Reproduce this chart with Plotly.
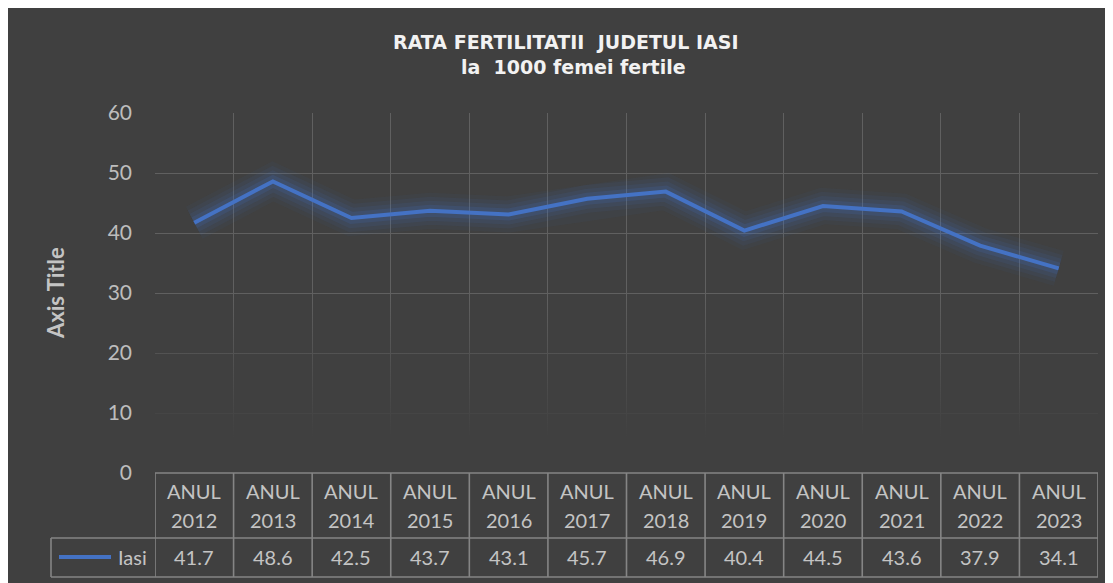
import plotly.graph_objects as go

# ---------------- data ----------------
categories = ["ANUL 2012", "ANUL 2013", "ANUL 2014", "ANUL 2015", "ANUL 2016", "ANUL 2017",
              "ANUL 2018", "ANUL 2019", "ANUL 2020", "ANUL 2021", "ANUL 2022", "ANUL 2023"]
series_name = "Iasi"
values = [41.7, 48.6, 42.5, 43.7, 43.1, 45.7, 46.9, 40.4, 44.5, 43.6, 37.9, 34.1]
y_ticks = [0, 10, 20, 30, 40, 50, 60]
title_line1 = "RATA FERTILITATII  JUDETUL IASI"
title_line2 = "la  1000 femei fertile"
y_title = "Axis Title"

# ---------------- layout geometry (page pixels; the page body has an 8px margin) ----------------
OFF = 8
W, H = 1113 - OFF, 583 - OFF
L, R, T, B = 155, 1098, 113, 473
PW, PH = R - L, B - T


def px_x(px):
    return (px - L) / PW


def px_y(py):
    return (B - py) / PH


BG = "#404040"
GRID = "#606060"
TABLE = "#858585"
TXT = "#c4c4c4"
BLUE = "#4472C4"
FONT = "Lato, Open Sans, sans-serif"

x_idx = list(range(len(categories)))
n = len(categories)

fig = go.Figure()

# fade-out of the gridlines toward the bottom of the plot area
fig.add_trace(go.Scatter(
    x=[-0.5, n - 0.5, n - 0.5, -0.5, -0.5], y=[0, 0, 30, 30, 0],
    mode="none", fill="toself",
    fillgradient=dict(type="vertical", start=0, stop=30,
                      colorscale=[[0, "rgba(64,64,64,1)"], [0.2, "rgba(64,64,64,1)"],
                                  [1, "rgba(64,64,64,0)"]]),
    hoverinfo="skip", showlegend=False))

# glow
for w, a in [(36, 0.05), (28, 0.07), (20, 0.10), (12, 0.16)]:
    fig.add_trace(go.Scatter(x=x_idx, y=values, mode="lines",
                             line=dict(color=f"rgba(68,114,196,{a})", width=w),
                             hoverinfo="skip", showlegend=False))

fig.add_trace(go.Scatter(x=x_idx, y=values, mode="lines", name=series_name,
                         line=dict(color=BLUE, width=4), showlegend=False))

annotations = []
annotations.append(dict(text=f"<b>{title_line1}</b>", xref="paper", yref="paper",
                        x=px_x(566), y=px_y(41.5), showarrow=False,
                        font=dict(family="DejaVu Sans", size=19, color="#f2f2f2"),
                        xanchor="center", yanchor="middle"))
annotations.append(dict(text=f"<b>{title_line2}</b>", xref="paper", yref="paper",
                        x=px_x(573), y=px_y(67), showarrow=False,
                        font=dict(family="DejaVu Sans", size=19, color="#f2f2f2"),
                        xanchor="center", yanchor="middle"))
annotations.append(dict(text=f"<b>{y_title}</b>", xref="paper", yref="paper",
                        x=px_x(55), y=0.5, showarrow=False, textangle=-90,
                        font=dict(family=FONT, size=22, color=TXT),
                        xanchor="center", yanchor="middle"))

for i, cat in enumerate(categories):
    w1, w2 = cat.split(" ")
    annotations.append(dict(text=w1, xref="x", yref="paper", x=i, y=px_y(491),
                            showarrow=False, font=dict(family=FONT, size=20, color=TXT),
                            xanchor="center", yanchor="middle"))
    annotations.append(dict(text=w2, xref="x", yref="paper", x=i, y=px_y(520),
                            showarrow=False, font=dict(family=FONT, size=20, color=TXT),
                            xanchor="center", yanchor="middle"))
    annotations.append(dict(text=f"{values[i]}", xref="x", yref="paper", x=i, y=px_y(557),
                            showarrow=False, font=dict(family=FONT, size=20, color=TXT),
                            xanchor="center", yanchor="middle"))

annotations.append(dict(text=series_name, xref="paper", yref="paper", x=px_x(132), y=px_y(557),
                        showarrow=False, font=dict(family=FONT, size=20, color=TXT),
                        xanchor="center", yanchor="middle"))

shapes = []
# data table grid
tl = dict(color=TABLE, width=1.6)
shapes.append(dict(type="line", xref="x", yref="paper", x0=-0.5, x1=n - 0.5,
                   y0=px_y(B), y1=px_y(B), line=tl, layer="above"))
for py in (538, 577):
    shapes.append(dict(type="line", xref="paper", yref="paper", x0=px_x(51), x1=1,
                       y0=px_y(py), y1=px_y(py), line=tl, layer="above"))
for k in range(n + 1):
    shapes.append(dict(type="line", xref="x", yref="paper", x0=k - 0.5, x1=k - 0.5,
                       y0=px_y(B), y1=px_y(577), line=tl, layer="above"))
shapes.append(dict(type="line", xref="paper", yref="paper", x0=px_x(51), x1=px_x(51),
                   y0=px_y(538), y1=px_y(577), line=tl, layer="above"))
# legend key
shapes.append(dict(type="line", xref="paper", yref="paper", x0=px_x(59), x1=px_x(111),
                   y0=px_y(557), y1=px_y(557), line=dict(color=BLUE, width=4), layer="above"))

fig.update_layout(
    width=W, height=H,
    margin=dict(l=L - OFF, r=(W + OFF) - R, t=T - OFF, b=(H + OFF) - B, pad=0),
    paper_bgcolor=BG, plot_bgcolor=BG,
    showlegend=False,
    annotations=annotations, shapes=shapes,
    xaxis=dict(range=[-0.5, n - 0.5], tick0=-0.5, dtick=1, showticklabels=False,
               showgrid=True, gridcolor=GRID, gridwidth=1.3, zeroline=False, showline=False,
               ticks=""),
    yaxis=dict(range=[0, 60], tickvals=y_ticks, showgrid=True, gridcolor=GRID, gridwidth=1.3,
               zeroline=False, showline=False, ticks="", ticklabelstandoff=22,
               tickfont=dict(family=FONT, size=21, color="#bdbdbd")),
)

fig.write_html("out.html")
